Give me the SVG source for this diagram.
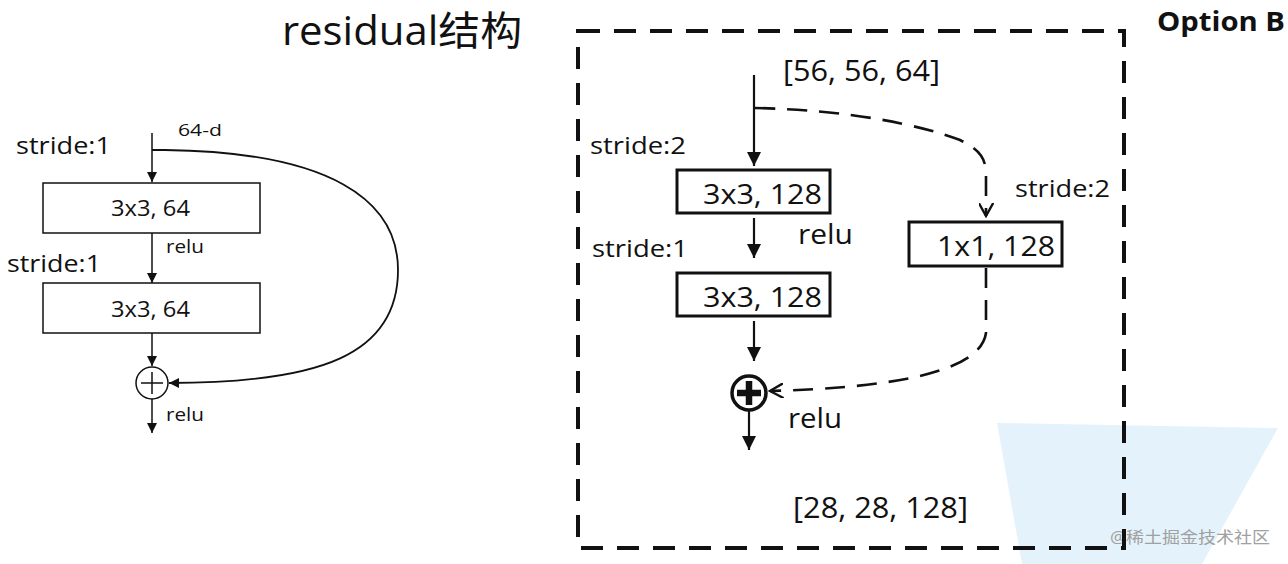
<svg xmlns="http://www.w3.org/2000/svg" width="1288" height="564" viewBox="0 0 1288 564">
<defs>
<style>
.t{font-family:"Open Sans","Liberation Sans","Noto Sans CJK SC",sans-serif;fill:#111}
.box{fill:#fff;stroke:#111}
.ln{stroke:#111;fill:none}
</style>
<marker id="a1" viewBox="0 0 10 10" refX="10" refY="5" markerWidth="10" markerHeight="10" markerUnits="userSpaceOnUse" orient="auto"><path d="M0,0 L10,5 L0,10 z" fill="#111"/></marker>
<marker id="a2" viewBox="0 0 10 10" refX="10" refY="5" markerWidth="14" markerHeight="15" markerUnits="userSpaceOnUse" orient="auto"><path d="M0,0 L10,5 L0,10 z" fill="#111"/></marker>
<marker id="a3" viewBox="0 0 10 10" refX="9" refY="5" markerWidth="15" markerHeight="15" markerUnits="userSpaceOnUse" orient="auto"><path d="M0,0 L9,5 L0,10" fill="none" stroke="#111" stroke-width="1.6"/></marker>
</defs>
<rect width="1288" height="564" fill="#fff"/>
<polygon points="997,423 1278,428 1202,564 1022,564" fill="#e4f3fb"/>

<text class="t" x="282" y="45" font-size="40" textLength="240" lengthAdjust="spacingAndGlyphs">residual结构</text>
<text class="t" x="1157" y="31" font-size="26" font-weight="bold" textLength="128" lengthAdjust="spacingAndGlyphs">Option B</text>
<text class="t" x="1110" y="543" font-size="16" style="fill:#a0a0a0" textLength="160" lengthAdjust="spacingAndGlyphs">@稀土掘金技术社区</text>

<g id="left-connectors">
<line class="ln" x1="152" y1="133" x2="152" y2="182" stroke-width="1.5" marker-end="url(#a1)"/>
<line class="ln" x1="152" y1="233" x2="152" y2="283" stroke-width="1.5" marker-end="url(#a1)"/>
<line class="ln" x1="152" y1="333" x2="152" y2="366" stroke-width="1.5" marker-end="url(#a1)"/>
<line class="ln" x1="152" y1="399" x2="152" y2="433" stroke-width="1.5" marker-end="url(#a1)"/>
<path class="ln" d="M152,150 L165,150 C330,152 398,200 398,270 C398,355 320,383 169,383" stroke-width="1.8" marker-end="url(#a1)"/>
</g>
<g id="left-labels">
<text class="t" x="178" y="136" font-size="17" textLength="44" lengthAdjust="spacingAndGlyphs">64-d</text>
<text class="t" x="16" y="154" font-size="24" textLength="95" lengthAdjust="spacingAndGlyphs">stride:1</text>
<text class="t" x="166" y="253" font-size="18" textLength="38" lengthAdjust="spacingAndGlyphs">relu</text>
<text class="t" x="7" y="272" font-size="24" textLength="94" lengthAdjust="spacingAndGlyphs">stride:1</text>
<text class="t" x="166" y="421" font-size="18" textLength="38" lengthAdjust="spacingAndGlyphs">relu</text>
</g>
<g id="left-box1">
<rect class="box" x="43" y="183" width="217" height="50" stroke-width="1.5"/>
<text class="t" x="111" y="216" font-size="22" textLength="79" lengthAdjust="spacingAndGlyphs">3x3, 64</text>
</g>
<g id="left-box2">
<rect class="box" x="43" y="283" width="217" height="50" stroke-width="1.5"/>
<text class="t" x="111" y="317" font-size="22" textLength="79" lengthAdjust="spacingAndGlyphs">3x3, 64</text>
</g>
<g id="left-add">
<circle cx="152" cy="383" r="16" fill="#fff" stroke="#111" stroke-width="1.5"/>
<path d="M141,383 H163 M152,372 V394" stroke="#111" stroke-width="1.5"/>
</g>

<g id="option-b-frame">
<rect x="578" y="31" width="546" height="517" fill="none" stroke="#111" stroke-width="4" stroke-dasharray="22,14"/>
</g>
<g id="right-connectors">
<line class="ln" x1="754" y1="75" x2="754" y2="166" stroke-width="2.2" marker-end="url(#a2)"/>
<line class="ln" x1="754" y1="218" x2="754" y2="258" stroke-width="2.2" marker-end="url(#a2)"/>
<line class="ln" x1="754" y1="321" x2="754" y2="361" stroke-width="2.2" marker-end="url(#a2)"/>
<line class="ln" x1="749" y1="411" x2="749" y2="450" stroke-width="2.2" marker-end="url(#a2)"/>
<path class="ln" d="M755,108 C850,110 920,125 960,140 C980,150 986,158 986,175 L986,216" stroke-width="2.6" stroke-dasharray="20,12" marker-end="url(#a3)"/>
<path class="ln" d="M986,268 L986,333 C980,375 880,388 770,391" stroke-width="2.6" stroke-dasharray="20,12" marker-end="url(#a3)"/>
</g>
<g id="right-labels">
<text class="t" x="783" y="81" font-size="29" textLength="157" lengthAdjust="spacingAndGlyphs">[56, 56, 64]</text>
<text class="t" x="590" y="154" font-size="24" textLength="96" lengthAdjust="spacingAndGlyphs">stride:2</text>
<text class="t" x="798" y="244" font-size="27" textLength="55" lengthAdjust="spacingAndGlyphs">relu</text>
<text class="t" x="592" y="257" font-size="24" textLength="96" lengthAdjust="spacingAndGlyphs">stride:1</text>
<text class="t" x="1015" y="197" font-size="24" textLength="95" lengthAdjust="spacingAndGlyphs">stride:2</text>
<text class="t" x="788" y="428" font-size="27" textLength="54" lengthAdjust="spacingAndGlyphs">relu</text>
<text class="t" x="793" y="518" font-size="29" textLength="175" lengthAdjust="spacingAndGlyphs">[28, 28, 128]</text>
</g>
<g id="right-box1">
<rect class="box" x="677" y="170" width="153" height="43" stroke-width="3"/>
<text class="t" x="703" y="204" font-size="28" textLength="119" lengthAdjust="spacingAndGlyphs">3x3, 128</text>
</g>
<g id="right-box2">
<rect class="box" x="677" y="273" width="153" height="43" stroke-width="3"/>
<text class="t" x="703" y="307" font-size="28" textLength="119" lengthAdjust="spacingAndGlyphs">3x3, 128</text>
</g>
<g id="right-box3">
<rect class="box" x="909" y="222" width="153" height="44" stroke-width="3"/>
<text class="t" x="937" y="256" font-size="28" textLength="118" lengthAdjust="spacingAndGlyphs">1x1, 128</text>
</g>
<g id="right-add">
<circle cx="749" cy="393" r="17" fill="#fff" stroke="#111" stroke-width="3.5"/>
<path d="M737,393 H761 M749,381 V405" stroke="#111" stroke-width="6.5"/>
</g>
</svg>
